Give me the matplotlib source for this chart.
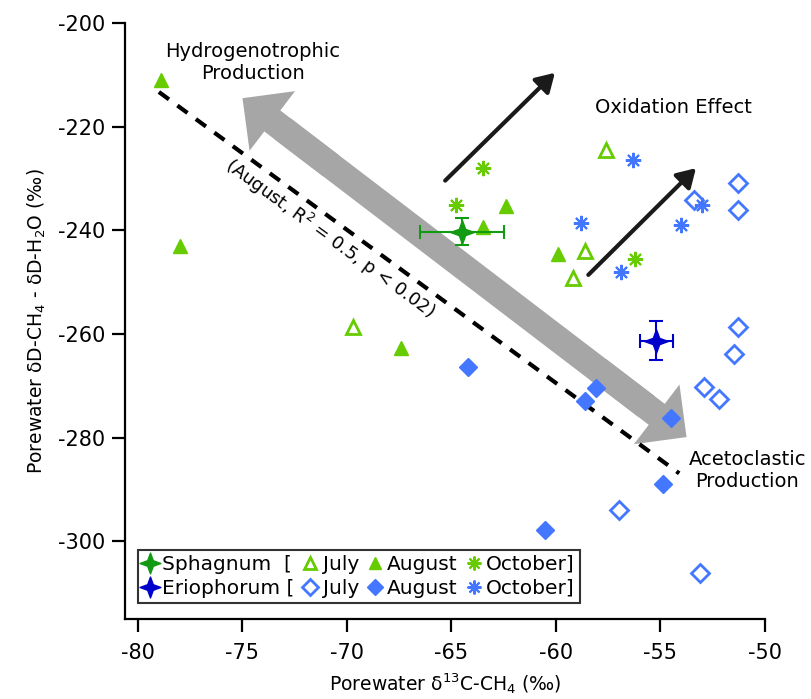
import numpy as np
import matplotlib
matplotlib.use('Agg')
import matplotlib.pyplot as plt
from matplotlib.lines import Line2D
from matplotlib.path import Path

plt.rcParams['font.family'] = ['DejaVu Sans']
plt.rcParams['mathtext.fontset'] = 'dejavusans'
plt.rcParams['axes.unicode_minus'] = False

# Sphagnum points (d13C, dD-CH4 - dD-H2O)
sph_jul_x = [-69.7, -57.6, -58.6, -59.2]
sph_jul_y = [-258.6, -224.4, -244.0, -249.2]
sph_aug_x = [-78.9, -78.0, -67.4, -63.5, -62.4, -59.9]
sph_aug_y = [-211.0, -243.0, -262.7, -239.4, -235.3, -244.6]
sph_oct_x = [-63.5, -64.8, -56.2]
sph_oct_y = [-228.0, -235.1, -245.6]

# Eriophorum points
eri_jul_x = [-53.4, -51.3, -51.3, -51.3, -51.5, -52.9, -52.2, -57.0, -53.1]
eri_jul_y = [-234.2, -230.8, -236.0, -258.6, -263.8, -270.2, -272.5, -293.9, -306.1]
eri_aug_x = [-64.2, -58.1, -58.6, -54.5, -54.9, -60.5]
eri_aug_y = [-266.3, -270.5, -272.9, -276.3, -288.9, -297.9]
eri_oct_x = [-56.3, -58.8, -54.0, -56.9, -53.0]
eri_oct_y = [-226.4, -238.5, -239.0, -248.0, -235.1]

# means with errors
sph_mean = (-64.5, -240.3)
sph_err = (2.0, 2.6)
eri_mean = (-55.2, -261.3)
eri_err = (0.8, 3.8)

# August regression line ends
reg_x = [-79.0, -54.1]
reg_y = [-213.3, -286.9]

lime = '#66cc00'
blue = '#4477ff'
dkgreen = '#129a12'
dkblue = '#0000cc'

star4 = Path.unit_regular_star(4, 0.38)
aster = (8, 2, 0)

fig = plt.figure(figsize=(8.12, 6.99), dpi=100)
ax = fig.add_axes([0.154, 0.1145, 0.788, 0.8525])

# grey double arrow: shaft plus two heads
tip_a = np.array([-75.0, -214.5])
tip_b = np.array([-53.75, -279.9])
sa = tip_a + 0.09 * (tip_b - tip_a)
sb = tip_a + 0.91 * (tip_b - tip_a)
ax.plot([sa[0], sb[0]], [sa[1], sb[1]], color='#a6a6a6', lw=19, solid_capstyle='butt', zorder=1)
for tip, base in [(tip_a, tip_a + 0.2 * (tip_b - tip_a)), (tip_b, tip_a + 0.8 * (tip_b - tip_a))]:
    ax.annotate('', xy=tip, xytext=base,
                arrowprops=dict(arrowstyle='simple,head_length=27,head_width=54,tail_width=19',
                                mutation_scale=1, color='#a6a6a6', lw=0,
                                shrinkA=0, shrinkB=0), zorder=1)

# oxidation arrows
for start, end in [((-65.3, -230.4), (-60.05, -209.6)), ((-58.45, -248.6), (-53.3, -228.0))]:
    ax.annotate('', xy=end, xytext=start,
                arrowprops=dict(arrowstyle='-|>,head_length=0.55,head_width=0.33',
                                mutation_scale=20, color='#1a1a1a', lw=3,
                                shrinkA=0, shrinkB=0), zorder=2)

ax.plot(reg_x, reg_y, color='black', lw=3, linestyle=(0, (3, 2.5)), zorder=2)

ms = 10
ax.plot(sph_jul_x, sph_jul_y, '^', ms=ms, mfc='white', mec=lime, mew=2, ls='none', zorder=3)
ax.plot(sph_aug_x, sph_aug_y, '^', ms=ms, color=lime, ls='none', zorder=3)
ax.plot(sph_oct_x, sph_oct_y, marker=aster, ms=11, mec=lime, mew=1.5, ls='none', zorder=3)
ax.plot(eri_jul_x, eri_jul_y, 'D', ms=9, mfc='white', mec=blue, mew=2, ls='none', zorder=3)
ax.plot(eri_aug_x, eri_aug_y, 'D', ms=9, color=blue, ls='none', zorder=3)
ax.plot(eri_oct_x, eri_oct_y, marker=aster, ms=11, mec=blue, mew=1.5, ls='none', zorder=3)

ax.errorbar(sph_mean[0], sph_mean[1], xerr=sph_err[0], yerr=sph_err[1], fmt='none',
            ecolor=dkgreen, elinewidth=1.5, capsize=5, capthick=1.5, zorder=4)
ax.plot(sph_mean[0], sph_mean[1], marker=star4, ms=17, color=dkgreen, ls='none', zorder=5)
ax.errorbar(eri_mean[0], eri_mean[1], xerr=eri_err[0], yerr=eri_err[1], fmt='none',
            ecolor=dkblue, elinewidth=1.5, capsize=5, capthick=1.5, zorder=4)
ax.plot(eri_mean[0], eri_mean[1], marker=star4, ms=17, color=dkblue, ls='none', zorder=5)

ax.text(-74.5, -207.6, 'Hydrogenotrophic\nProduction', ha='center', va='center',
        fontsize=14, linespacing=1.2)
ax.text(-54.4, -216.2, 'Oxidation Effect', ha='center', va='center', fontsize=14)
ax.text(-50.85, -286.4, 'Acetoclastic\nProduction', ha='center', va='center',
        fontsize=14, linespacing=1.2)
ax.text(-70.8, -241.6, '(August, R$^2$ = 0.5, p < 0.02)', ha='center', va='center',
        rotation=-36.2, rotation_mode='anchor', fontsize=13)

ax.set_xlim(-80.62, -50)
ax.set_ylim(-315, -200)
ax.set_xticks([-80, -75, -70, -65, -60, -55, -50])
ax.set_yticks([-300, -280, -260, -240, -220, -200])
ax.spines['top'].set_visible(False)
ax.spines['right'].set_visible(False)
ax.spines['left'].set_linewidth(1.6)
ax.spines['bottom'].set_linewidth(1.6)
ax.tick_params(direction='out', length=9.5, width=1.6, labelsize=15)
ax.tick_params(axis='x', pad=8)
ax.tick_params(axis='y', pad=5)

ax.set_xlabel('Porewater δ$^{13}$C-CH$_4$ (‰)', fontsize=13.5, labelpad=6)
ax.set_ylabel('Porewater δD-CH$_4$ - δD-H$_2$O (‰)', fontsize=13.5, labelpad=7)

handles = [
    Line2D([], [], marker=star4, ms=15, color=dkgreen, ls='none'),
    Line2D([], [], marker=star4, ms=15, color=dkblue, ls='none'),
    Line2D([], [], marker='^', ms=9, mfc='white', mec=lime, mew=2, ls='none'),
    Line2D([], [], marker='D', ms=8, mfc='white', mec=blue, mew=2, ls='none'),
    Line2D([], [], marker='^', ms=9, color=lime, ls='none'),
    Line2D([], [], marker='D', ms=8, color=blue, ls='none'),
    Line2D([], [], marker=aster, ms=10, mec=lime, mew=1.5, ls='none'),
    Line2D([], [], marker=aster, ms=10, mec=blue, mew=1.5, ls='none'),
]
labels = ['Sphagnum  [', 'Eriophorum [', 'July', 'July', 'August', 'August',
          'October]', 'October]']
leg = ax.legend(handles, labels, ncol=4, loc='lower left', bbox_to_anchor=(0.02, 0.027),
                borderaxespad=0, fontsize=14.5, frameon=True, fancybox=False,
                edgecolor='black', handlelength=0.7, handletextpad=0.25,
                columnspacing=0.45, labelspacing=0.25, borderpad=0.25)
leg.get_frame().set_linewidth(1.5)

fig.savefig('out.png', dpi=100)
